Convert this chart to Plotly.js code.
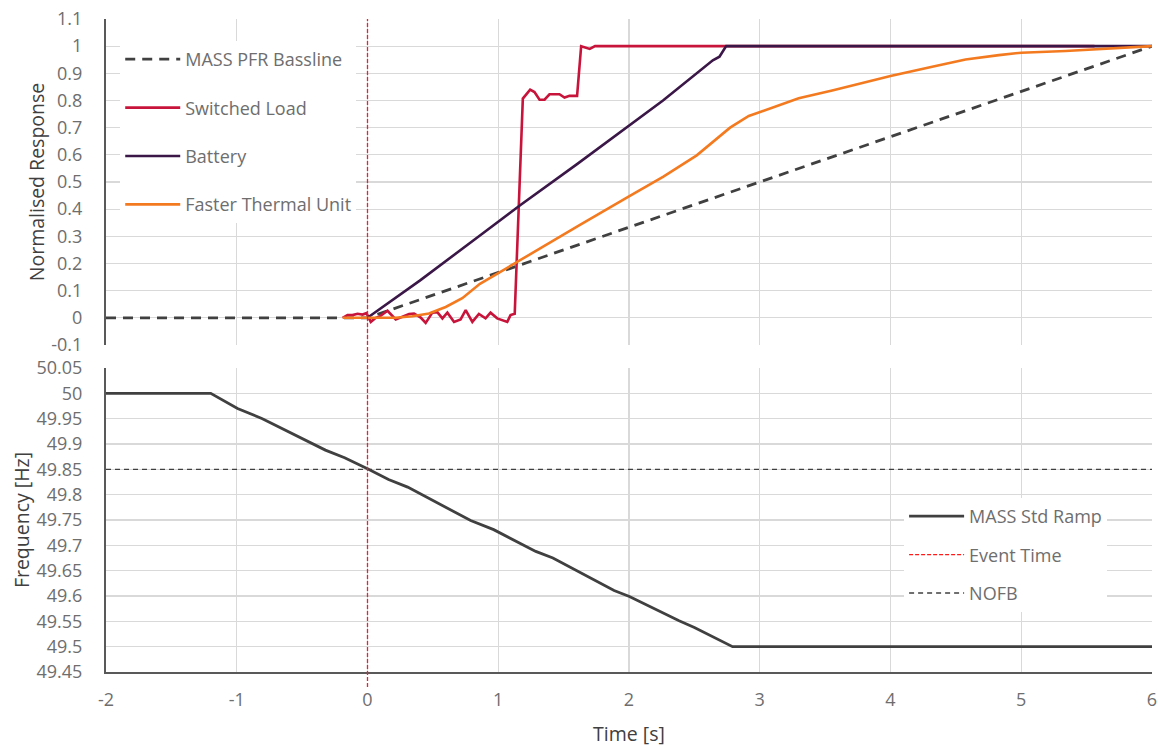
<!DOCTYPE html>
<html>
<head>
<meta charset="utf-8">
<script src="https://cdn.plot.ly/plotly-3.0.1.min.js"></script>
<style>
  html, body { margin: 0; padding: 0; background: #ffffff; }
  #chart { width: 1158px; height: 747px; }
</style>
</head>
<body>
<div id="chart"></div>
<script>
// ---- Response traces (normalised, time in seconds) ----
const baselineTime = [-2, 0, 6];
const baselineResp = [0, 0, 1];

const loadTime = [-0.19, -0.153, -0.115, -0.076, -0.038, -0.008, 0.025, 0.064, 0.089, 0.153,
  0.216, 0.254, 0.318, 0.356, 0.407, 0.445, 0.496, 0.534, 0.573, 0.611,
  0.662, 0.712, 0.751, 0.802, 0.852, 0.903, 0.941, 0.992, 1.043, 1.069,
  1.094, 1.126, 1.188, 1.244, 1.277, 1.316, 1.354, 1.392, 1.468, 1.507,
  1.545, 1.603, 1.634, 1.70, 1.74, 5.56];
const loadResp = [0, 0.01, 0.01, 0.015, 0.012, 0.017, -0.015, 0, 0.004, 0.026,
  -0.006, 0.001, 0.014, 0.016, 0.001, -0.019, 0.019, 0.021, -0.002, 0.019,
  -0.015, -0.006, 0.028, -0.015, 0.014, -0.002, 0.019, -0.002, -0.011, -0.015,
  0.01, 0.015, 0.807, 0.84, 0.831, 0.803, 0.803, 0.823, 0.823, 0.811,
  0.817, 0.817, 1.0, 0.99, 1.0, 1.0];

const batteryTime = [0, 0.4, 0.86, 1.17, 1.6, 2.0, 2.26, 2.641, 2.692, 2.743, 6];
const batteryResp = [0, 0.137, 0.303, 0.415, 0.565, 0.707, 0.80, 0.948, 0.961, 1.0, 1.0];

const thermalTime = [-0.19, 0.216, 0.343, 0.47, 0.598, 0.725, 0.86, 1.0, 1.14, 1.37,
  1.625, 2.0, 2.263, 2.518, 2.61, 2.773, 2.916, 3.043, 3.298, 3.554,
  3.809, 4.0, 4.319, 4.574, 4.829, 5.0, 5.339, 5.594, 5.847, 6.0];
const thermalResp = [0, 0, 0.006, 0.016, 0.04, 0.072, 0.125, 0.165, 0.205, 0.27,
  0.342, 0.447, 0.52, 0.598, 0.635, 0.70, 0.743, 0.765, 0.808, 0.837,
  0.868, 0.89, 0.924, 0.951, 0.967, 0.976, 0.982, 0.988, 0.996, 1.0];

// ---- Frequency traces (Hz) ----
const rampTime = [-2, -1.199, -0.994, -0.804, -0.322, -0.175, 0, 0.161, 0.307, 0.789,
  0.965, 1.287, 1.418, 1.886, 2.003, 2.383, 2.5, 2.792, 6];
const rampFreq = [50, 50, 49.970, 49.950, 49.888, 49.873, 49.851, 49.830, 49.815, 49.749,
  49.731, 49.688, 49.675, 49.611, 49.599, 49.551, 49.538, 49.5, 49.5];

const nofbTime = [-2, 6];
const nofbFreq = [49.85, 49.85];

const eventTime = 0;

// ---- Tick labels ----
const timeTicks = [-2, -1, 0, 1, 2, 3, 4, 5, 6];
const respTicks = [-0.1, 0, 0.1, 0.2, 0.3, 0.4, 0.5, 0.6, 0.7, 0.8, 0.9, 1, 1.1];
const freqTicks = [49.45, 49.5, 49.55, 49.6, 49.65, 49.7, 49.75, 49.8, 49.85, 49.9, 49.95, 50, 50.05];

const FONT = 'Open Sans, Noto Sans, sans-serif';
const GRID = '#d9d9d9';
const AXISLINE = '#595959';
const TICKCOL = '#6e6e6e';
const TITLECOL = '#404040';

const traces = [
  { name: 'MASS PFR Bassline', x: baselineTime, y: baselineResp, xaxis: 'x', yaxis: 'y',
    mode: 'lines', line: { color: '#404040', width: 2.8, dash: '10px,7px' },
    legend: 'legend', legendgroup: 'g1' },
  { name: 'Switched Load', x: loadTime, y: loadResp, xaxis: 'x', yaxis: 'y',
    mode: 'lines', line: { color: '#c8143a', width: 2.6 },
    legend: 'legend', legendgroup: 'g2' },
  { name: 'Battery', x: batteryTime, y: batteryResp, xaxis: 'x', yaxis: 'y',
    mode: 'lines', line: { color: '#3b1748', width: 2.6 },
    legend: 'legend', legendgroup: 'g3' },
  { name: 'Faster Thermal Unit', x: thermalTime, y: thermalResp, xaxis: 'x', yaxis: 'y',
    mode: 'lines', line: { color: '#f47a20', width: 2.6 },
    legend: 'legend', legendgroup: 'g4' },
  { name: 'MASS Std Ramp', x: rampTime, y: rampFreq, xaxis: 'x2', yaxis: 'y2',
    mode: 'lines', line: { color: '#404040', width: 2.8 },
    legend: 'legend2', legendgroup: 'h1' },
  { name: 'Event Time', x: [null], y: [null], xaxis: 'x2', yaxis: 'y2',
    mode: 'lines', line: { color: '#ff1a1a', width: 1.3, dash: '4px,2px' },
    legend: 'legend2', legendgroup: 'h2' },
  { name: 'NOFB', x: nofbTime, y: nofbFreq, xaxis: 'x2', yaxis: 'y2',
    mode: 'lines', line: { color: '#404040', width: 1.3, dash: '5px,4px' },
    legend: 'legend2', legendgroup: 'h3' }
];

const tickFont = { family: FONT, size: 18, color: TICKCOL };
const titleFont = { family: FONT, size: 19.5, color: TITLECOL };
const legendFont = { family: FONT, size: 18, color: TICKCOL };

const layout = {
  width: 1158,
  height: 747,
  margin: { l: 106, r: 6, t: 19, b: 75 },
  paper_bgcolor: '#ffffff',
  plot_bgcolor: '#ffffff',
  font: { family: FONT, size: 18, color: TICKCOL },
  showlegend: true,
  xaxis: {
    domain: [0, 1], anchor: 'y', matches: 'x2', range: [-2, 6],
    tickmode: 'array', tickvals: timeTicks, showticklabels: false,
    showgrid: true, gridcolor: GRID, gridwidth: 1.3,
    zeroline: false, showline: false, ticks: ''
  },
  yaxis: {
    domain: [0.5008, 1], anchor: 'x', range: [-0.1, 1.1],
    tickmode: 'array', tickvals: respTicks, ticktext: respTicks.map(String),
    tickfont: tickFont, ticks: '', ticklabelstandoff: 18,
    showgrid: true, gridcolor: GRID, gridwidth: 1.3, zeroline: false,
    showline: true, linecolor: AXISLINE, linewidth: 2,
    title: { text: 'Normalised Response', font: titleFont, standoff: 1 }
  },
  xaxis2: {
    domain: [0, 1], anchor: 'y2', range: [-2, 6],
    tickmode: 'array', tickvals: timeTicks, ticktext: timeTicks.map(String),
    tickfont: tickFont, ticks: '', ticklabelstandoff: 10,
    showgrid: true, gridcolor: GRID, gridwidth: 1.3, zeroline: false,
    showline: true, linecolor: AXISLINE, linewidth: 2,
    title: { text: 'Time [s]', font: titleFont, standoff: 18 }
  },
  yaxis2: {
    domain: [0, 0.4655], anchor: 'x2', range: [49.45, 50.05],
    tickmode: 'array', tickvals: freqTicks, ticktext: freqTicks.map(String),
    tickfont: tickFont, ticks: '', ticklabelstandoff: 18,
    showgrid: true, gridcolor: GRID, gridwidth: 1.3, zeroline: false,
    showline: true, linecolor: AXISLINE, linewidth: 2,
    title: { text: 'Frequency [Hz]', font: titleFont, standoff: 2 }
  },
  legend: {
    x: 0.0136, y: 0.9663, xanchor: 'left', yanchor: 'top',
    bgcolor: '#ffffff', borderwidth: 0,
    traceorder: 'grouped', tracegroupgap: 22, itemwidth: 55,
    font: legendFont
  },
  legend2: {
    x: 0.763, y: 0.2665, xanchor: 'left', yanchor: 'top',
    bgcolor: '#ffffff', borderwidth: 0,
    traceorder: 'grouped', tracegroupgap: 12, itemwidth: 55,
    font: legendFont
  },
  shapes: [
    { type: 'line', xref: 'x2', yref: 'paper', x0: eventTime, x1: eventTime, y0: -0.023, y1: 1,
      line: { color: '#e3223f', width: 1.3, dash: '4px,2px' }, layer: 'above' }
  ]
};

Plotly.newPlot('chart', traces, layout, { displayModeBar: false, staticPlot: true });
</script>
</body>
</html>
